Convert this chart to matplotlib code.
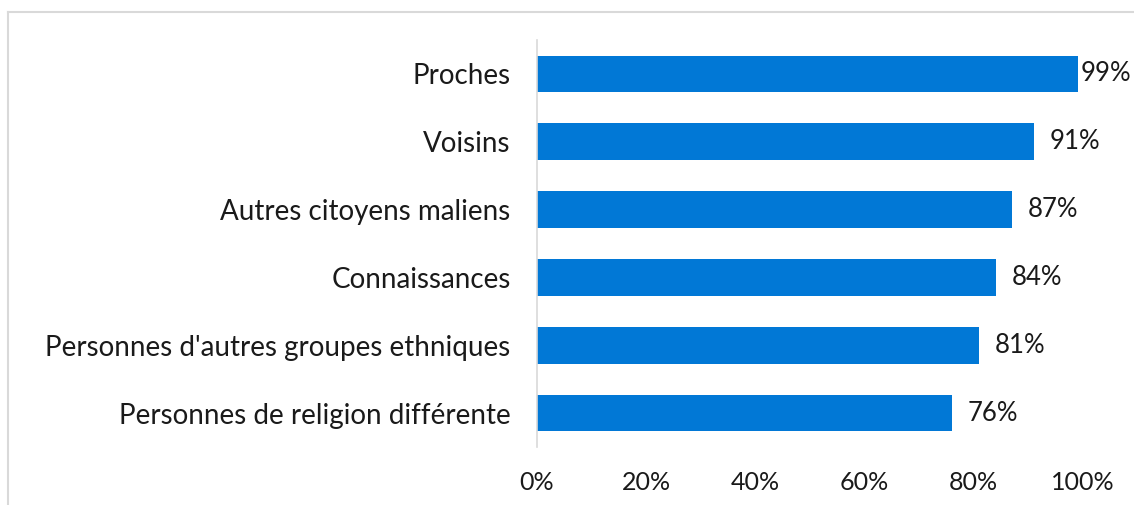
import matplotlib
matplotlib.use("Agg")
import matplotlib.pyplot as plt
from matplotlib.lines import Line2D

categories = ["Proches", "Voisins", "Autres citoyens maliens", "Connaissances",
              "Personnes d'autres groupes ethniques", "Personnes de religion différente"]
values = [99, 91, 87, 84, 81, 76]
xticks = [0, 20, 40, 60, 80, 100]
xtick_labels = ["0%", "20%", "40%", "60%", "80%", "100%"]

plt.rcParams['font.family'] = ['Lato', 'DejaVu Sans']

fig = plt.figure(figsize=(11.34, 5.05), dpi=100)
ax = fig.add_axes([537/1134, 1-447/505, (1083-537)/1134, (447-40)/505])

ypos = list(range(len(categories)))
ax.barh(ypos, values, height=0.54, color="#0178D6")
ax.set_ylim(len(categories)-0.5, -0.5)
ax.set_xlim(0, 100)
ax.set_yticks(ypos)
ax.set_yticklabels(categories, fontsize=20, color="#1a1a1a")
ax.set_xticks(xticks)
ax.set_xticklabels(xtick_labels, fontsize=18, color="#1a1a1a")
ax.tick_params(axis='y', length=0, pad=19)
ax.tick_params(axis='x', length=0, pad=17)
for s in ["top", "right", "bottom"]:
    ax.spines[s].set_visible(False)
ax.spines["left"].set_color("#d9d9d9")
ax.spines["left"].set_linewidth(1.2)

for y, v in zip(ypos, values):
    off = 2.5 if v >= 95 else 11.5
    ax.annotate(f"{v}%", (v, y), xytext=(off, 0), textcoords="offset points",
                ha="left", va="center", fontsize=18.5, color="#1a1a1a",
                annotation_clip=False)

# outer frame (top and left edges visible)
fig.add_artist(Line2D([8/1134, 1], [1-12/505, 1-12/505], transform=fig.transFigure,
                      color="#d9d9d9", linewidth=1.5))
fig.add_artist(Line2D([8/1134, 8/1134], [0, 1-12/505], transform=fig.transFigure,
                      color="#d9d9d9", linewidth=1.5))

fig.savefig("out.png", dpi=100, facecolor="white")
